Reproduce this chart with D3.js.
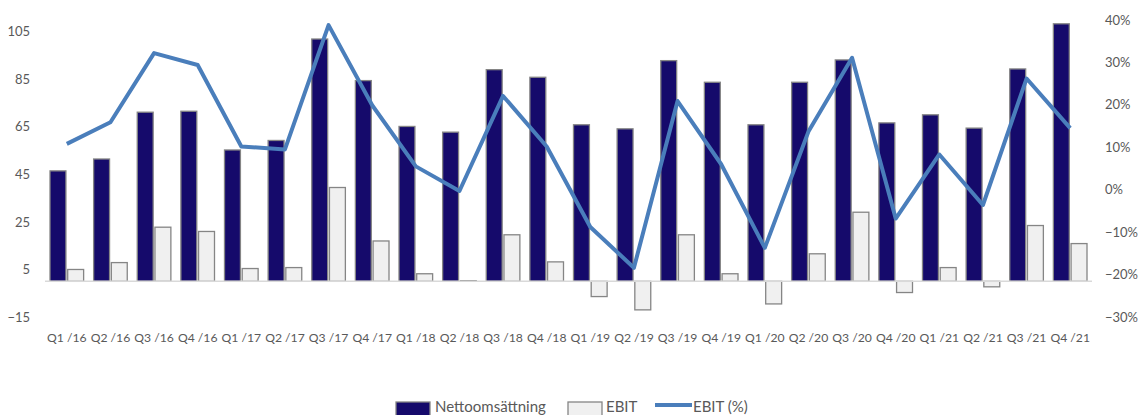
<!DOCTYPE html>
<html><head><meta charset="utf-8">
<script src="https://cdn.jsdelivr.net/npm/d3@7"></script>
<style>
body{margin:0;background:#fff;}
text{font-family:Lato,"Open Sans",sans-serif;fill:#595959;}
</style></head>
<body><svg id="c" width="1139" height="415"></svg>
<script>
const categories = ["Q1 /16","Q2 /16","Q3 /16","Q4 /16","Q1 /17","Q2 /17","Q3 /17","Q4 /17","Q1 /18","Q2 /18","Q3 /18","Q4 /18","Q1 /19","Q2 /19","Q3 /19","Q4 /19","Q1 /20","Q2 /20","Q3 /20","Q4 /20","Q1 /21","Q2 /21","Q3 /21","Q4 /21"];
const netSales = [46.5,51.5,71.2,71.6,55.3,59.3,102,84.5,65.2,62.8,89.1,85.9,65.9,64.2,92.9,83.8,65.9,83.8,93.2,66.7,70.1,64.5,89.4,108.4];
const ebit = [5.0,7.9,22.8,21.0,5.4,5.8,39.5,17.0,3.2,0.3,19.6,8.2,-6.4,-12.0,19.6,3.2,-9.5,11.6,29.1,-4.7,5.8,-2.3,23.5,15.9];
const ebitPct = [10.8,15.9,32.2,29.4,10.2,9.5,38.8,19.9,5.5,-0.3,22.1,10.2,-8.8,-18.4,20.9,6.0,-13.7,13.7,31.1,-6.8,8.3,-3.6,26.2,14.5];
const leftTicks = [-15,5,25,45,65,85,105];
const rightTicks = [-30,-20,-10,0,10,20,30,40];
const legendLabels = ["Nettoomsättning","EBIT","EBIT (%)"];

const svg = d3.select("#c");
const mTop = 20, mBottom = 317, mLeft = 45, mRight = 1092;
const x = d3.scaleBand().domain(categories).range([mLeft, mRight]).padding(0);
const sub = d3.scaleBand().domain(["n","e"]).range([5, x.bandwidth()-5]).paddingInner(0.1);
const yL = d3.scaleLinear().domain([-15,110]).range([mBottom, mTop]);
const yR = d3.scaleLinear().domain([-30,40]).range([mBottom, mTop]);
const fmt = d => (d<0 ? "\u2212" + Math.abs(d) : "" + d);

svg.append("g").selectAll("text").data(leftTicks).join("text")
  .attr("x", 30).attr("y", d => yL(d)).attr("dy","0.35em")
  .attr("text-anchor","end").attr("font-size",13).text(fmt);
svg.append("g").selectAll("text").data(rightTicks).join("text")
  .attr("x", 1105).attr("y", d => yR(d)).attr("dy","0.35em")
  .attr("text-anchor","start").attr("font-size",13).text(d => fmt(d) + "%");

const g = svg.append("g");
g.selectAll("rect.n").data(netSales).join("rect").attr("class","n")
  .attr("x",(d,i)=>x(categories[i])+sub("n")).attr("width",sub.bandwidth())
  .attr("y",d=>yL(Math.max(0,d))).attr("height",d=>Math.abs(yL(d)-yL(0)))
  .attr("fill","#150a6b").attr("stroke","#858585").attr("stroke-width",1.3);
g.selectAll("rect.e").data(ebit).join("rect").attr("class","e")
  .attr("x",(d,i)=>x(categories[i])+sub("e")).attr("width",sub.bandwidth())
  .attr("y",d=>yL(Math.max(0,d))).attr("height",d=>Math.abs(yL(d)-yL(0)))
  .attr("fill","#f0f0f0").attr("stroke","#858585").attr("stroke-width",1.3);

svg.append("line").attr("x1",mLeft).attr("x2",mRight).attr("y1",yL(0)).attr("y2",yL(0))
  .attr("stroke","#d9d9d9").attr("stroke-width",1.5);

const line = d3.line().x((d,i)=>x(categories[i])+x.bandwidth()/2).y(d=>yR(d));
svg.append("path").datum(ebitPct).attr("d",line).attr("fill","none")
  .attr("stroke","#4a7ebb").attr("stroke-width",4).attr("stroke-linejoin","round");

svg.append("g").selectAll("text").data(categories).join("text")
  .attr("x",d=>x(d)+x.bandwidth()/2).attr("y",338).attr("dy","0.35em")
  .attr("text-anchor","middle").attr("font-size",12.2).text(d=>d);

const lg = svg.append("g");
lg.append("rect").attr("x",396).attr("y",402).attr("width",34).attr("height",14)
  .attr("fill","#150a6b").attr("stroke","#858585").attr("stroke-width",1.3);
lg.append("text").attr("x",435).attr("y",412).attr("font-size",15).text(legendLabels[0]);
lg.append("rect").attr("x",568).attr("y",402).attr("width",34).attr("height",14)
  .attr("fill","#f0f0f0").attr("stroke","#858585").attr("stroke-width",1.3);
lg.append("text").attr("x",606).attr("y",412).attr("font-size",15).text(legendLabels[1]);
lg.append("line").attr("x1",655).attr("x2",692).attr("y1",405).attr("y2",405)
  .attr("stroke","#4a7ebb").attr("stroke-width",4);
lg.append("text").attr("x",693).attr("y",412).attr("font-size",15).text(legendLabels[2]);
</script></body></html>
